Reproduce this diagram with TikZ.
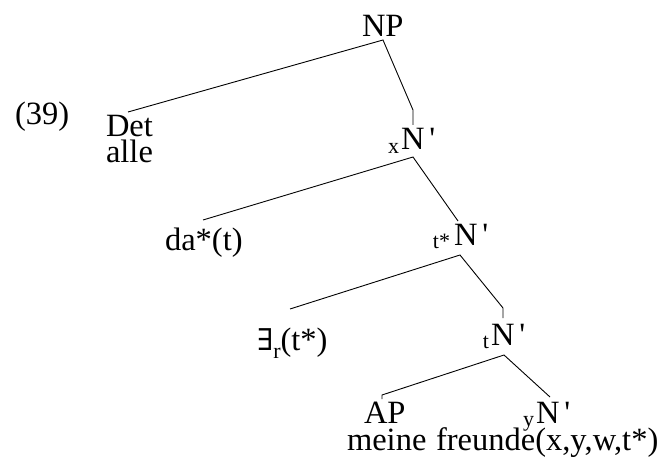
\documentclass[tikz,border=0pt]{standalone}
\usepackage{fontspec}
\setmainfont{Liberation Serif}
\newfontfamily\dvs{DejaVu Serif}
\newcommand\sbs[1]{\raisebox{-3pt}{\fontsize{22}{22}\selectfont #1}}
\newcommand\primemark{\hspace{5pt}\textquotesingle}
\begin{document}
\begin{tikzpicture}[x=1pt,y=-1pt,
  lbl/.style={anchor=base west,inner sep=0pt,outer sep=0pt,font=\fontsize{32.5}{32.5}\selectfont},
  branch/.style={line width=0.9pt,line cap=butt}]
\useasboundingbox (0,0) rectangle (666,465);
% labels
\node[lbl] (ex) at (15,125) {(39)};
\node[lbl] (np) at (362,37) {NP};
\node[lbl] (det) at (106,137) {Det};
\node[lbl] (alle) at (106,163) {alle};
\node[lbl] (xn) at (401,150) {\llap{\sbs{x}\hspace{2pt}}N\primemark};
\node[lbl] (da) at (165,250) {da*(t)};
\node[lbl] (tsn) at (454,245) {\llap{\sbs{t*}\hspace{4pt}}N\primemark};
\node[lbl] (ex2) at (257,350) {{\dvs\fontsize{30}{30}\selectfont ∃}\raisebox{-8pt}{\fontsize{22}{22}\selectfont r}(t*)};
\node[lbl] (tn) at (491,345) {\llap{\sbs{t}\hspace{2pt}}N\primemark};
\node[lbl] (ap) at (364,423) {AP};
\node[lbl] (meine) at (347,450) {meine};
\node[lbl] (yn) at (536,423) {\llap{\sbs{y}\hspace{2pt}}N\primemark};
\node[lbl] (fr) at (436,450) {freunde(x,y,w,t*)};
% junction points
\coordinate (j0) at (383,40);
\coordinate (d0) at (128,112);
\coordinate (r0) at (413,110);
\coordinate (s0) at (413,125);
\coordinate (j1) at (413,157);
\coordinate (d1) at (203,220);
\coordinate (r1) at (458,221);
\coordinate (j2) at (460,255);
\coordinate (d2) at (290,309);
\coordinate (r2) at (503,308);
\coordinate (s2) at (503,318);
\coordinate (j3) at (504,355);
\coordinate (d3) at (382,395);
\coordinate (e3) at (382,399);
\coordinate (r3) at (550,397);
% branches
\draw[branch] (d0) -- (j0) -- (r0) -- (s0);
\draw[branch] (d1) -- (j1) -- (r1);
\draw[branch] (d2) -- (j2) -- (r2) -- (s2);
\draw[branch] (e3) -- (d3) -- (j3) -- (r3);
\end{tikzpicture}
\end{document}
